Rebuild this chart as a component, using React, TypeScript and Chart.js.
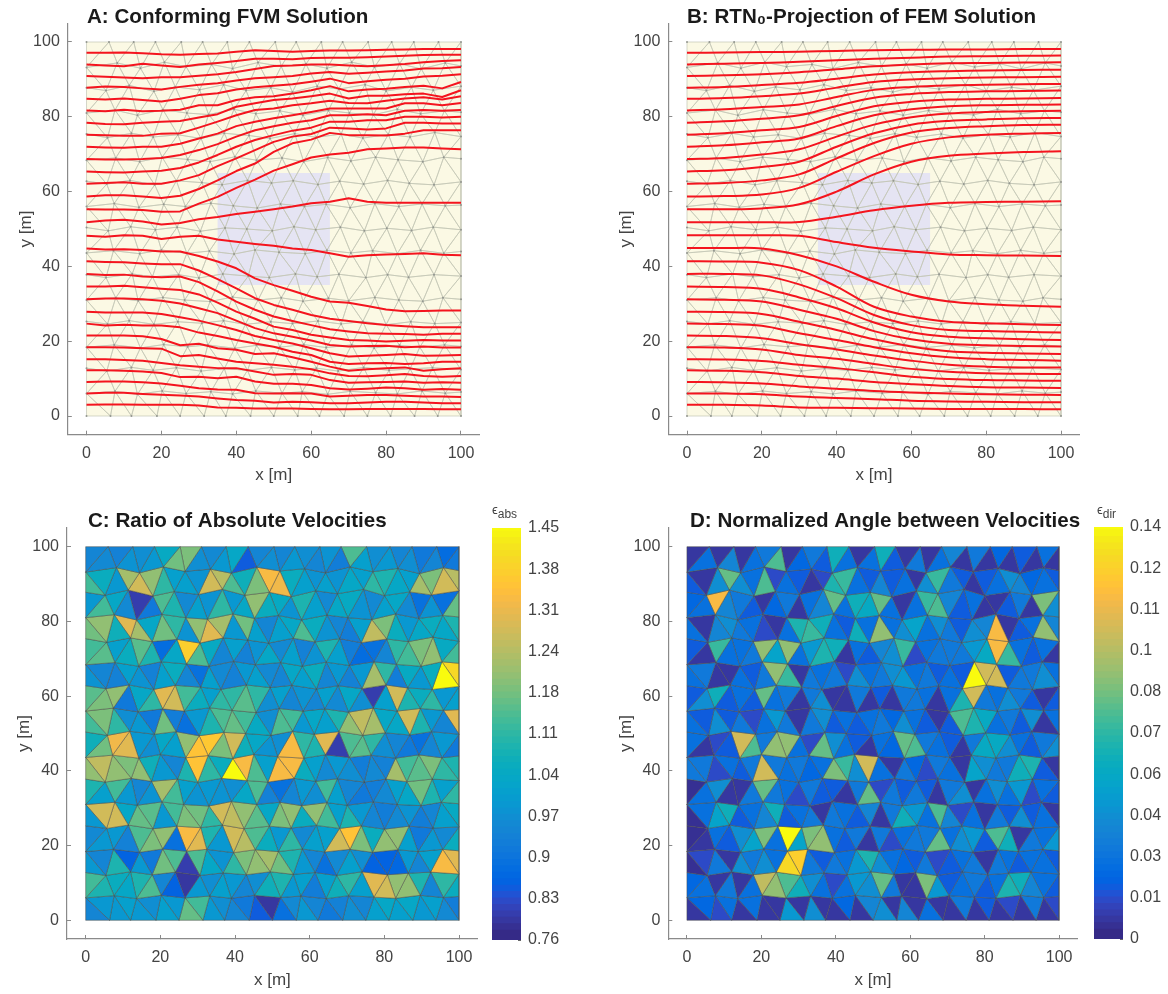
import React, { useEffect, useRef } from "react";
import { Chart, registerables } from "chart.js";

Chart.register(...registerables);

const FONT = "'Liberation Sans', Arial, sans-serif";
const TEXT = "#444444";
const AXIS = "#8a8a8a";

const axisTicks = [0, 20, 40, 60, 80, 100];
const titles = [
  "A: Conforming FVM Solution",
  "B: RTN₀-Projection of FEM Solution",
  "C: Ratio of Absolute Velocities",
  "D: Normalized Angle between Velocities",
];
const absTickLabels = ["0.76", "0.83", "0.9", "0.97", "1.04", "1.11", "1.18", "1.24", "1.31", "1.38", "1.45"];
const dirTickLabels = ["0", "0.01", "0.03", "0.04", "0.06", "0.07", "0.08", "0.1", "0.11", "0.12", "0.14"];
const absRange = [0.76, 1.45];
const dirRange = [0, 0.14];
const domainBox = [0, 100];
const lensBox = [35, 65];

const meshX = [
  [0,6,12.6,18.4,25.3,31,37.6,43.5,50.4,56,62.7,68.4,75.2,81.5,87.4,94,100],
  [0,8.2,14.4,20.8,26.6,33.4,39,45.8,52,58.6,64.2,70.8,76.9,83.6,89.4,95.8,100],
  [0,5.2,11.4,18,23.7,30.2,36.6,42.6,49.2,55,61.6,67.4,74.4,80,86.8,92.6,100],
  [0,7.6,13.6,20.4,26.8,32.6,39.4,45.2,51.6,57.8,64.6,70.2,76.6,83,89.2,95.6,100],
  [0,5.6,12,17.8,24.4,30.6,36.8,43.4,49,55.6,61.4,68,73.8,80.6,86.4,93,100],
  [0,7.8,14.2,20.2,27,33,39.6,45.4,52.2,58,64.4,70.6,77.2,83.2,89.8,95.4,100],
  [0,5.4,11.6,18.2,24,30.8,36.2,43,49.4,55.2,61.8,67.6,74,80.4,86.2,92.8,100],
  [0,7.4,14,20.6,26.4,33.2,39.2,45.6,51.8,58.2,64,70.4,77,83.4,89.6,95.8,100],
  [0,5.8,11.8,18.4,24.2,30.4,37,42.8,49.6,55.4,61.2,67.8,74.2,80.2,86.8,92.6,100],
  [0,7.2,14.2,20,26.8,32.8,39.4,45,51.4,58.4,64.2,70.6,76.4,83,89.2,95.4,100],
  [0,5.2,12.2,17.6,24.6,30,36.4,43.2,48.8,55.8,61.6,67.4,74.6,80.4,86,92.8,100],
  [0,7.8,13.8,20.4,26.2,33,39,45.8,52,57.8,64.6,70,77,83.4,89.8,95.2,100],
  [0,5.6,11.4,18,24.4,30.8,36.6,42.4,49.2,55,61.8,68,73.8,80,86.6,93,100],
  [0,7.4,14.4,20.6,27,32.4,39.6,45.4,51.6,58,64,70.8,76.8,83.6,89,95.6,100],
  [0,5.4,12,17.8,24,30.6,36.8,43,49.4,55.6,61.4,67.2,74,80.8,86.4,92.4,100],
  [0,7.6,13.6,20.2,26.6,33.2,39,45.2,52.2,57.6,64.4,70.4,77.2,83,89.6,95.8,100],
  [0,6.4,12,18.8,25,31.4,37.2,43.8,50,56.4,62.2,68.8,75,81.2,87.6,93.8,100],
];
const meshY = [
  [100,100,100,100,100,100,100,100,100,100,100,100,100,100,100,100,100],
  [93.2,94.4,93,94.6,93.4,94,92.9,94.5,93.5,94.1,93,94.6,93.3,94.2,92.8,94.4,93.6],
  [87.8,87,88.4,86.8,88,87.2,88.6,87,87.8,86.6,88.2,87.4,88.6,86.9,87.9,87.1,88.2],
  [81,81.8,80.4,81.9,81,80.6,82,80.8,81.6,80.4,81.7,81,80.5,82,80.8,81.6,81.2],
  [75.4,74.4,75.6,74.6,75.2,74.2,75.6,75,74.2,75.5,74.5,75.4,74.3,75.3,74.6,75.8,74.7],
  [68.4,69,68,69.2,68.6,68,69.3,68.4,69,68,69.1,68.2,69.2,68.5,68,69.2,68.8],
  [62.8,62,63,61.8,62.9,62.4,61.8,63,62.3,62.9,61.9,62.8,62,63,62.2,61.8,62.6],
  [56,56.8,55.8,56.6,56,56.9,56.2,55.6,56.7,56,56.6,55.7,56.8,56,56.7,56.2,56.4],
  [50.4,49.5,50.6,49.8,50.5,49.4,50.3,50,49.5,50.6,49.8,50.5,49.5,50.2,49.6,50.5,49.8],
  [43.6,44.2,43.4,44.4,43.5,44.1,43.3,44.4,43.8,43.4,44.3,43.6,44.2,43.4,44.3,43.5,44],
  [37.8,37,38,37.2,37.8,36.9,38,37.4,37,38,37.2,37.9,37,37.8,37.1,37.8,37.4],
  [31,31.6,30.8,31.7,31,30.6,31.8,31,31.6,30.7,31.5,30.8,31.7,31,30.7,31.6,31.2],
  [25.3,24.6,25.5,24.5,25.2,24.8,25.5,24.5,25.2,24.7,25.4,24.6,25.3,24.4,25.2,24.7,25],
  [18.4,19,18.2,19.1,18.5,19,18.1,18.9,18.4,19.1,18.3,19,18.2,18.9,18.4,19,18.6],
  [12.8,12,13,12.2,12.9,12,12.7,12.2,13,12.3,12.8,12,13,12.2,12.6,12.9,12.4],
  [6,6.6,5.8,6.7,6,6.5,5.9,6.7,6.1,6.5,5.8,6.6,6.2,5.9,6.7,6.1,6.4],
  [0,0,0,0,0,0,0,0,0,0,0,0,0,0,0,0,0],
];

const absRatio = [
  [.93,.95,.92,.97,.96,.98,1.03,1.16,1.18,.96,.95,.98,1.02,.84,.93,.96,.94,.98,.96,.93,.97,.91,1.13,1.0,.96,.98,.94,.96,.9,.94,.87,.9],
  [1.12,1.04,.98,1.22,1.28,1.2,1.1,1.0,1.0,.97,1.28,1.24,1.13,1.06,1.18,1.33,1.32,1.05,1.0,.97,1.0,.97,1.02,1.0,1.1,1.08,1.02,1.0,1.22,1.18,1.28,1.24],
  [.98,1.12,1.02,.95,.79,.9,1.13,1.08,.95,1.0,.97,1.1,.98,1.02,1.2,1.04,1.03,.97,1.08,1.0,.95,1.02,1.03,.97,.95,1.0,1.02,.95,.88,.97,.88,1.15],
  [1.16,1.2,1.06,1.3,1.22,1.02,1.16,1.1,.97,1.2,1.3,1.22,.98,1.17,1.0,.94,1.0,1.02,1.13,1.04,.97,.93,.91,1.0,1.25,1.18,1.04,.98,1.02,1.05,1.02,1.08],
  [1.12,1.14,1.0,1.04,1.14,1.08,.87,1.02,1.37,1.13,1.03,.93,1.0,.92,.97,1.02,.95,1.0,.92,.97,1.08,1.0,.91,.87,.88,.93,1.1,1.12,1.18,1.2,1.03,1.12],
  [.97,.94,.92,1.0,.97,.92,1.0,1.05,.94,.88,1.0,.95,.92,.98,1.0,.95,.94,1.02,1.0,1.05,.93,.98,.92,.98,1.22,1.1,.91,1.03,.98,1.04,1.45,1.4],
  [1.14,1.18,1.2,.9,1.02,1.1,1.3,1.28,1.12,1.04,1.0,1.1,1.1,1.14,1.1,.96,1.0,.94,.97,.93,1.0,.95,1.02,.96,.79,1.0,1.27,1.08,1.05,1.1,.98,1.0],
  [1.12,1.18,1.1,.96,.98,.9,1.16,.91,.88,.98,1.08,1.13,1.15,1.12,1.03,.96,1.13,1.12,.98,1.02,1.0,1.08,1.2,1.25,1.22,1.02,1.02,1.28,1.08,.98,.93,1.3],
  [1.06,1.16,1.32,1.3,.98,.96,1.02,1.0,1.2,1.35,1.36,1.18,1.27,1.06,1.02,.97,.96,1.33,1.1,1.08,1.3,.79,1.13,1.14,1.1,.96,.94,.9,.88,.93,.98,.9],
  [1.2,1.25,1.2,1.18,1.2,1.06,.98,.93,1.08,1.35,1.1,1.05,1.45,1.33,1.13,1.0,1.33,1.33,1.05,1.0,.95,.98,.96,.91,.95,.92,1.22,1.12,1.14,1.18,1.1,1.08],
  [1.08,1.0,1.12,.98,.94,.97,1.22,1.12,1.0,.97,.98,.97,.96,1.02,1.13,.92,.88,.93,.98,.96,1.12,1.0,.93,.9,.91,.95,1.0,1.02,1.16,1.08,1.0,1.1],
  [.98,1.28,1.28,1.02,1.15,1.14,.98,1.12,1.18,1.17,1.1,1.27,1.25,1.2,1.14,1.02,1.18,1.2,1.05,1.2,1.12,1.0,1.08,.98,.93,.91,.95,.97,.91,.93,1.0,1.03],
  [.95,.98,.98,.92,1.13,1.18,1.2,.88,1.33,1.3,1.08,.98,1.27,1.24,1.13,1.04,.98,1.1,.95,1.0,1.0,1.28,1.35,1.18,1.04,1.2,1.2,1.0,.9,.98,.95,1.04],
  [.98,.94,1.08,.85,.98,.9,1.17,1.13,.79,1.13,1.02,.97,1.1,1.18,1.2,1.22,1.16,1.08,.98,.93,.88,.95,1.0,.96,.85,.85,.86,.98,.94,1.0,1.33,1.3],
  [1.12,1.08,1.05,1.02,1.08,1.13,.94,.85,.78,.98,.96,1.0,.98,.94,.96,1.06,1.08,.98,1.0,.91,1.0,1.06,1.1,1.0,1.3,1.28,1.2,1.2,1.08,.93,1.1,1.05],
  [.94,.98,.98,1.0,.98,.96,1.0,.98,1.15,1.12,.98,.96,.93,.9,.84,.78,.88,.95,.98,.94,.9,.92,.96,.93,1.0,1.02,1.0,1.02,.98,1.0,.95,.91],
];

const angleNorm = [
  [.005,.025,.005,.035,.005,.025,.03,.075,.005,.02,.03,.015,.06,.025,.005,.025,.06,.015,.005,.03,.005,.025,.035,.005,.03,.005,.02,.005,.015,.005,.025,.005],
  [.015,.005,.04,.08,.04,.025,.075,.01,.025,.015,.005,.01,.065,.07,.025,.015,.035,.015,.025,.005,.04,.07,.03,.015,.005,.015,.025,.04,.035,.02,.025,.015],
  [.02,.025,.115,.035,.03,.015,.005,.02,.03,.005,.025,.035,.08,.025,.06,.055,.08,.025,.005,.025,.07,.075,.035,.015,.025,.005,.005,.015,.03,.005,.085,.04],
  [.025,.005,.035,.04,.03,.025,.01,.005,.025,.065,.07,.06,.025,.015,.06,.025,.09,.025,.04,.05,.025,.04,.03,.015,.04,.035,.115,.005,.015,.025,.09,.035],
  [.015,.005,.07,.025,.025,.03,.09,.05,.09,.025,.045,.065,.06,.005,.025,.015,.035,.04,.07,.01,.025,.03,.03,.03,.045,.055,.115,.07,.025,.015,.025,.005],
  [.025,.03,.005,.005,.025,.015,.03,.09,.07,.005,.03,.025,.03,.01,.04,.025,.03,.04,.045,.025,.03,.015,.025,.015,.14,.105,.105,.015,.03,.03,.04,.025],
  [.015,.04,.06,.015,.025,.015,.08,.025,.03,.005,.03,.04,.005,.005,.03,.005,.015,.005,.03,.03,.025,.005,.025,.065,.105,.03,.025,.04,.03,.015,.005,.015],
  [.025,.015,.04,.015,.03,.01,.025,.045,.03,.005,.03,.04,.015,.025,.015,.025,.03,.02,.04,.025,.015,.005,.015,.075,.065,.055,.025,.03,.015,.04,.005,.025],
  [.025,.005,.01,.015,.105,.075,.03,.09,.09,.025,.01,.08,.04,.025,.015,.005,.025,.02,.08,.075,.03,.025,.015,.005,.03,.055,.055,.04,.025,.015,.03,.04],
  [.03,.03,.01,.025,.015,.03,.105,.03,.025,.03,.02,.025,.085,.07,.04,.105,.025,.005,.03,.02,.01,.03,.025,.005,.05,.04,.03,.03,.06,.065,.015,.005],
  [.002,.025,.04,.005,.005,.03,.08,.03,.025,.01,.03,.015,.015,.005,.03,.08,.01,.03,.015,.03,.015,.005,.03,.04,.005,.025,.04,.025,.045,.01,.025,.015],
  [.002,.025,.05,.06,.015,.025,.035,.06,.015,.025,.03,.005,.03,.025,.015,.035,.005,.03,.06,.045,.025,.075,.035,.01,.025,.005,.03,.015,.04,.015,.025,.005],
  [.002,.005,.025,.015,.04,.05,.085,.025,.14,.05,.085,.09,.025,.015,.03,.005,.03,.01,.025,.03,.03,.08,.025,.04,.045,.015,.075,.06,.005,.03,.025,.045],
  [.002,.01,.03,.005,.04,.03,.04,.025,.13,.125,.03,.015,.03,.025,.045,.065,.04,.025,.02,.015,.03,.01,.015,.025,.03,.005,.03,.025,.015,.025,.025,.015],
  [.02,.025,.005,.03,.005,.025,.1,.09,.075,.06,.04,.025,.01,.025,.045,.04,.08,.03,.005,.005,.085,.045,.015,.025,.03,.015,.025,.065,.06,.035,.025,.015],
  [.005,.02,.01,.025,.005,.025,.005,.005,.045,.005,.04,.005,.005,.02,.005,.035,.04,.005,.035,.005,.025,.005,.005,.03,.005,.015,.005,.01,.005,.03,.005,.01],
];

const stationsA = [0,5,10,15,20,25,30,35,40,45,50,55,60,65,70,75,80,85,90,95,100];
const streamA = [
  [97.1,97.1,97.2,97,96.7,96.6,96.8,96.9,97.4,97.8,97.6,97.4,97.6,97.7,97.7,97.8,97.9,98,98.1,98.1,98.1],
  [94,93.7,93.5,94.2,93.7,93.3,94,94.4,94.9,95.5,95.5,95.4,95.7,95.8,95.8,95.9,96.1,96.3,96.5,96.6,96.6],
  [90.9,90.7,90.5,90.3,90.6,90.6,91,91.4,92,92.8,93.6,93.7,94,94,93.7,93.5,93.8,94.1,94.6,94.9,95.1],
  [87.8,88.1,88,87.6,87.3,88,88.6,89,89.7,90.3,90.6,90.9,91.6,92,91.5,91.8,92.1,92.4,92.9,93,93.3],
  [84.8,84.6,84.9,84.5,84.1,84.8,85.8,86.3,87.3,87.9,88.3,88.7,89.4,90.2,89,89.5,89.9,90.2,90.8,91,91.4],
  [81.7,81.5,81.9,81.5,81.6,81.9,83.1,83.1,84.5,85.2,85.5,86.2,87.1,88.2,86.8,87.3,87.5,88,88.3,87.6,89.3],
  [78.4,78.1,78,78.4,78.7,78.9,79.8,80.7,82.7,83.6,84.5,84.9,85.5,86.2,84.9,85.6,85.6,86,86.2,85.3,87.1],
  [75.2,75.1,74.9,74.9,75.5,75.6,77.1,78.7,80.4,81.8,82.2,83.1,83.6,84.3,83.7,83.6,84.3,84.9,85.2,84.6,85.5],
  [72,71.8,71.7,72,72,72.8,74.2,75.5,77.5,78.7,79.6,80.4,81.3,82.2,82.2,82.2,82.2,83.6,83.6,83.1,83.7],
  [68.7,68.6,68.6,68.7,69,69.8,71.1,72.7,74.7,76.4,77.5,78.4,79.1,80.4,80.4,80.7,80.4,81.6,81.8,81.6,81.8],
  [65.4,65.2,65.1,65.4,65.6,66.3,67.8,69.8,72,73.8,75.1,76.3,77.1,78.7,78.7,79.1,79.1,80,80,79.8,80],
  [62.1,62.3,62.5,62.1,62.1,63,64.4,66.8,68.9,71.1,73.3,74.7,75.4,77.1,76.9,76.6,76.9,78.4,78.4,78.2,78.2],
  [58.7,59,59,58.7,58.3,58.9,60.7,63,65.5,67.5,70.6,72.9,73.9,75.7,75.1,75.1,75,75.5,76.4,76.4,76.4],
  [55.3,55.2,55.2,55.1,54.6,54.7,56.8,58.6,61,63.2,65.6,67.3,69.1,69.9,70.4,71.3,71.5,71.8,71.8,71.5,71.3],
  [51.8,52.3,52.5,52,51.2,51.6,52.6,53.2,54,54.6,55.3,56,56.9,57.3,58.2,57.3,57,57,57,57,57],
  [48.2,47.9,48.3,48.2,47.3,47.9,48.2,47.2,46.6,46,45.5,44.8,44.4,43.5,42.6,43,43.2,43.3,43.5,43.1,43],
  [44.8,44.5,44.6,44.4,44,44,42.8,41.3,39.5,36.8,35,33.5,31.9,30.6,30.3,29.4,28.5,28,28.1,28.2,28.2],
  [41.4,41.2,41.1,40.8,40.6,40.6,38.9,36.6,34.1,31.5,29.7,28.4,27,26,25.4,24.8,24.3,24,23.7,23.7,23.7],
  [38,37.7,37.8,37.3,37.1,37.3,35.8,33.3,30.6,28.4,26.6,25.4,24.3,23.2,22.6,22.1,22,21.9,21.7,22,22],
  [34.6,34.6,34.8,34.4,34,33.7,32.5,30.3,27.9,26,23.9,23,21.7,21,20.3,20.2,19.9,20.1,20.3,20.2,20.2],
  [31.2,31.4,31.4,31.2,30.8,30.1,28.8,27.5,25.5,23.5,22.1,21.2,20.2,19,18.6,18.7,18.8,18.4,18.6,18.3,18.3],
  [27.9,27.7,27.7,27.7,27.3,26.4,25.5,24.3,23,21.4,20.3,19.4,18.1,16.8,15.9,16.1,16.3,16.6,16.1,16.2,16.3],
  [24.7,24.2,24.4,24.2,24.2,23.7,22.3,21.4,20.3,19.4,18.5,17.2,16.3,14.5,13.9,14.1,14.2,13.9,14.1,14.5,14.5],
  [21.5,21.5,21.5,21.3,20.6,18.9,19.3,18.1,17.7,16.6,16.8,15.7,14.5,13.2,12.1,12.5,12.8,13,12.1,12.5,12.8],
  [18.4,18.4,18.3,18.1,18,16,16.3,15.4,14.5,14.1,13.7,13.2,12.5,11.4,10.7,10.6,10.9,11.2,10.7,10.5,10.7],
  [15.2,15.2,15,14.8,14.2,13.6,13.2,12.8,12.8,11.9,11,11.2,11,9.6,8.9,9,9.1,9.2,8.9,9,8.9],
  [12.2,12.2,12.1,11.9,11.5,10.4,10.5,10.1,10.5,9.2,8.6,8.6,8.3,7.4,7.1,7.3,7.6,7.4,7,7.2,7],
  [9.1,9.2,9.2,9,8.7,8.1,7.4,7.1,7,6.1,6,6.1,6,5.2,5.4,5.6,5.6,5.4,5.2,5.2,5.1],
  [6,6.2,6.2,5.9,5.7,5.5,5.2,4.7,4.3,4.1,3.6,3.8,3.7,3.4,3.4,3.6,3.8,3.8,3.6,3.4,3.4],
  [3,3.1,3.1,3,3,3,2.8,2.3,2.2,2,2,2,1.9,1.8,1.8,1.9,1.9,1.9,1.9,1.8,1.8],
];

const stationsB = [0,10,20,30,40,50,60,70,80,90,100];
const streamB = [
  [97.1,97.2,97.3,97.4,97.6,97.8,97.9,98,98,98.1,98.1],
  [94,94.2,94.4,94.7,95.1,95.5,95.8,96.1,96.2,96.3,96.4],
  [90.9,91.1,91.4,91.9,92.7,93.5,94,94.3,94.4,94.5,94.6],
  [87.8,88,88.5,89.1,90.2,91.3,91.9,92.2,92.4,92.5,92.6],
  [84.8,85,85.5,86.2,87.8,89.3,90,90.3,90.5,90.6,90.7],
  [81.7,82,82.6,83.3,85.3,87.2,88,88.4,88.6,88.7,88.8],
  [78.4,78.8,79.5,80.4,82.9,85.1,86.1,86.6,86.8,86.9,87],
  [75.2,75.6,76.4,77.3,80.2,82.8,84,84.6,84.8,84.9,85],
  [72,72.4,73.2,74.2,77.5,80.4,82,82.8,83.1,83.2,83.3],
  [68.7,69,69.9,71.3,74.7,77.9,79.9,80.9,81.3,81.5,81.6],
  [65.4,65.7,66.6,68,72,75.6,77.9,78.9,79.3,79.6,79.7],
  [62.1,62.3,63,64.6,68.9,73,75.8,77,77.5,77.8,77.9],
  [58.7,58.8,59.2,61,65.3,69.5,72.8,74.5,75.2,75.5,75.7],
  [55.3,55.3,55.5,56.6,60,64.6,68,69.6,70.2,70.6,70.8],
  [51.8,51.8,51.8,51.9,53.3,55,56.2,57,57.2,57.3,57.4],
  [48.3,48.3,48.3,48.2,46.5,45,44,43.2,43,42.9,42.8],
  [44.9,44.9,44.8,43,40,35.9,32.4,30.6,29.9,29.5,29.2],
  [41.4,41.3,41,39,34.6,29.2,26.6,25.2,24.8,24.5,24.3],
  [38,38,37.6,35.2,31.5,27,24.3,23,22.7,22.5,22.3],
  [34.6,34.5,34,31.7,28.8,25,22.4,21.2,20.8,20.5,20.3],
  [31.2,31.1,30.6,28.4,26,22.7,20.5,19.3,18.9,18.7,18.6],
  [27.9,27.8,27.3,25.2,23,20.5,18.6,17.3,16.9,16.7,16.6],
  [24.7,24.6,24.1,22.1,20.3,18.4,16.8,15.7,15.2,15,14.8],
  [21.5,21.4,20.8,19.2,17.8,16.2,14.8,13.7,13.2,13,13],
  [18.4,18.3,17.8,16.3,15.3,13.9,12.6,11.8,11.4,11.3,11.2],
  [15.2,15.1,14.7,13.7,12.8,11.7,10.5,9.9,9.6,9.5,9.4],
  [12.2,12.1,11.7,10.7,10,9.1,8.5,8,7.7,7.6,7.5],
  [9.1,9,8.7,7.9,7.3,6.7,6.3,6,5.8,5.7,5.6],
  [6,6,5.8,5.2,4.8,4.5,4.1,3.9,3.8,3.7,3.7],
  [3,3,2.8,2.3,2.2,2.1,2,1.9,1.9,1.85,1.8],
];

const parula = [
  [.2081,.1663,.5292],[.2116,.1898,.5777],[.2123,.2138,.627],[.2081,.2386,.6771],[.1959,.2645,.7279],[.1707,.2919,.7792],[.1253,.3242,.8303],[.0591,.3598,.8683],
  [.0117,.3875,.882],[.006,.4086,.8828],[.0165,.4266,.8786],[.0329,.443,.872],[.0498,.4586,.8641],[.0629,.4737,.8554],[.0723,.4887,.8467],[.0779,.504,.8384],
  [.0793,.52,.8312],[.0749,.5375,.8263],[.0641,.557,.824],[.0488,.5772,.8228],[.0343,.5966,.8199],[.0265,.6137,.8135],[.0239,.6287,.8038],[.0231,.6418,.7913],
  [.0228,.6535,.7768],[.0267,.6642,.7607],[.0384,.6743,.7436],[.059,.6838,.7254],[.0843,.6928,.7062],[.1133,.7015,.6859],[.1453,.7098,.6646],[.1801,.7177,.6424],
  [.2178,.725,.6193],[.2586,.7317,.5954],[.3022,.7376,.5712],[.3482,.7424,.5473],[.3953,.7459,.5244],[.442,.7481,.5033],[.4871,.7491,.484],[.53,.7491,.4661],
  [.5709,.7485,.4494],[.6099,.7473,.4337],[.6473,.7456,.4188],[.6834,.7435,.4044],[.7184,.7411,.3905],[.7525,.7384,.3768],[.7858,.7356,.3633],[.8185,.7327,.3498],
  [.8507,.7299,.336],[.8824,.7274,.3217],[.9139,.7258,.3063],[.945,.7261,.2886],[.9739,.7314,.2666],[.9938,.7455,.2403],[.999,.7653,.2164],[.9955,.7861,.1967],
  [.988,.8066,.1794],[.9789,.8271,.1633],[.9697,.8481,.1475],[.9626,.8705,.1309],[.9589,.8949,.1132],[.9598,.9218,.0948],[.9661,.9514,.0755],[.9763,.9831,.0538],
];

const rgb = (c: number[]) => `rgb(${Math.round(c[0] * 255)},${Math.round(c[1] * 255)},${Math.round(c[2] * 255)})`;
const colorOf = (v: number, range: number[]) =>
  rgb(parula[Math.max(0, Math.min(63, Math.round(((v - range[0]) / (range[1] - range[0])) * 63)))]);
const vertex = (r: number, c: number) => ({ x: meshX[r][c], y: meshY[r][c] });

// Two triangles per mesh quad; the diagonal alternates from row to row.
function cellTriangles(r: number, c: number) {
  const a = vertex(r, c), b = vertex(r, c + 1), d = vertex(r + 1, c), e = vertex(r + 1, c + 1);
  return r % 2 === 0 ? [[a, b, d], [b, e, d]] : [[a, e, d], [a, b, e]];
}
function allTriangles() {
  const out: { x: number; y: number }[][] = [];
  for (let r = 0; r < meshX.length - 1; r++)
    for (let c = 0; c < meshX[0].length - 1; c++) out.push(...cellTriangles(r, c));
  return out;
}
const rect = (span: number[], fill: string) => ({
  data: [
    { x: span[0], y: span[0] }, { x: span[1], y: span[0] }, { x: span[1], y: span[1] }, { x: span[0], y: span[1] }, { x: span[0], y: span[0] },
  ],
  showLine: true, fill: "shape", backgroundColor: fill, borderWidth: 0, pointRadius: 0, tension: 0,
});

// Chart.js paints dataset 0 last, so the front-most layer comes first in the list.
function streamPanelDatasets(lines: number[][], stations: number[], tension: number) {
  const meshPoints: any[] = [];
  allTriangles().forEach((t) => meshPoints.push(t[0], t[1], t[2], t[0], { x: null, y: null }));
  const vertices = meshX.flatMap((row, r) => row.map((_, c) => vertex(r, c)));
  return [
    ...lines.map((ys) => ({
      data: ys.map((y, i) => ({ x: stations[i], y })),
      showLine: true, borderColor: "#f4141e", borderWidth: 2, pointRadius: 0, tension, fill: false,
      borderJoinStyle: "round",
    })),
    { data: vertices, showLine: false, pointRadius: 1, backgroundColor: "#93968f", borderWidth: 0 },
    { data: meshPoints, showLine: true, spanGaps: false, borderColor: "#c3c5b4", borderWidth: 0.7, pointRadius: 0, tension: 0, fill: false },
    rect(lensBox, "#e5e4f3"),
    rect(domainBox, "#fbf9e4"),
  ];
}
function cellPanelDatasets(values: number[][], range: number[]) {
  const tris = allTriangles();
  const flat = values.flat();
  return tris.map((t, i) => ({
    data: [t[0], t[1], t[2], t[0]],
    showLine: true, fill: "shape", backgroundColor: colorOf(flat[i], range),
    borderColor: "rgba(75,75,70,0.7)", borderWidth: 0.7, pointRadius: 0, tension: 0,
  }));
}

function panelConfig(p: any) {
  return {
    type: "scatter",
    data: { datasets: p.datasets },
    options: {
      responsive: false,
      animation: false,
      events: [],
      layout: { autoPadding: false, padding: { top: p.padTop, right: p.padRight, left: 0, bottom: 0 } },
      plugins: {
        legend: { display: false },
        tooltip: { enabled: false },
        title: {
          display: true, text: p.title, align: "start", fullSize: false, color: "#1a1a1a",
          font: { family: FONT, size: 20.6, weight: "bold", lineHeight: 1 }, padding: 0,
        },
      },
      scales: {
        x: {
          type: "linear", min: -5, max: 105,
          afterBuildTicks: (s: any) => { s.ticks = axisTicks.map((value) => ({ value })); },
          afterFit: (s: any) => { s.height = p.xHeight; },
          grid: { drawOnChartArea: false, tickLength: -4, color: AXIS },
          border: { color: AXIS, width: 1.2 },
          ticks: { color: TEXT, padding: 13, maxRotation: 0, autoSkip: false, font: { family: FONT, size: 16 } },
          title: { display: true, text: "x [m]", color: TEXT, font: { family: FONT, size: 17 }, padding: { top: 0, bottom: p.xTitleBottom } },
        },
        y: {
          type: "linear", min: -5, max: 105,
          afterBuildTicks: (s: any) => { s.ticks = axisTicks.map((value) => ({ value })); },
          afterFit: (s: any) => { s.width = p.yWidth; },
          grid: { drawOnChartArea: false, tickLength: -4, color: AXIS },
          border: { color: AXIS, width: 1.2 },
          ticks: { color: TEXT, padding: 12, autoSkip: false, font: { family: FONT, size: 16 } },
          title: { display: true, text: "y [m]", color: TEXT, font: { family: FONT, size: 17 }, padding: { top: p.yTitleTop, bottom: 0 } },
        },
      },
    },
    plugins: [
      {
        id: "placeTitle",
        afterLayout(chart: any) {
          const b = chart.titleBlock;
          const h = b.bottom - b.top;
          b.left = p.titleLeft;
          b.right = p.titleLeft + 470;
          b.top = p.titleCenter - h / 2;
          b.bottom = b.top + h;
        },
      },
    ],
  };
}

function colorbarConfig(labels: string[], range: number[], p: any) {
  const step = (range[1] - range[0]) / parula.length;
  const tickValues = labels.map((_, i) => range[0] + (i * (range[1] - range[0])) / (labels.length - 1));
  return {
    type: "scatter",
    data: {
      datasets: parula.map((c, i) => {
        const lo = range[0] + i * step, hi = lo + step * 1.6;
        return {
          data: [{ x: 0, y: lo }, { x: 1, y: lo }, { x: 1, y: hi }, { x: 0, y: hi }, { x: 0, y: lo }],
          showLine: true, fill: "shape", backgroundColor: rgb(c), borderWidth: 0, pointRadius: 0, tension: 0,
        };
      }),
    },
    options: {
      responsive: false,
      animation: false,
      events: [],
      layout: { autoPadding: false, padding: { top: p.top, bottom: p.bottom, left: p.left, right: 0 } },
      plugins: { legend: { display: false }, tooltip: { enabled: false } },
      scales: {
        x: { type: "linear", min: 0, max: 1, display: false },
        y: {
          type: "linear", position: "right", min: range[0], max: range[1],
          afterBuildTicks: (s: any) => { s.ticks = tickValues.map((value) => ({ value })); },
          afterFit: (s: any) => { s.width = p.axisWidth; },
          grid: { drawOnChartArea: false, tickLength: -3, color: "#666" },
          border: { display: false },
          ticks: {
            color: TEXT, padding: 10, autoSkip: false, font: { family: FONT, size: 16 },
            callback: (_: any, i: number) => labels[i],
          },
        },
      },
    },
  };
}

function ChartCanvas({ left, top, width, height, make }: any) {
  const ref = useRef<HTMLCanvasElement>(null);
  useEffect(() => {
    const chart = new Chart(ref.current as any, make());
    return () => chart.destroy();
  }, []);
  return (
    <canvas ref={ref} width={width} height={height}
      style={{ position: "absolute", left, top, width, height, display: "block" }} />
  );
}

function EpsLabel({ left, top, sub }: any) {
  return (
    <div style={{ position: "absolute", left, top, font: `13px ${FONT}`, color: TEXT, lineHeight: "14px" }}>
      ϵ<sub style={{ fontSize: 12, verticalAlign: "-4px", lineHeight: 0 }}>{sub}</sub>
    </div>
  );
}

export default function App() {
  const top = { padTop: 2.7, padRight: 10.3, xHeight: 55.3, xTitleBottom: 4, titleCenter: 17 };
  const low = { padTop: 7.4, padRight: 12.3, xHeight: 55, xTitleBottom: 3, titleCenter: 21 };
  return (
    <div style={{ position: "absolute", left: 0, top: 0, width: 1168, height: 994, background: "#fff", overflow: "hidden" }}>
      <ChartCanvas left={0} top={0} width={490} height={490} make={() => panelConfig({
        ...top, title: titles[0], titleLeft: 87, yWidth: 67.8, yTitleTop: 16,
        datasets: streamPanelDatasets(streamA, stationsA, 0),
      })} />
      <ChartCanvas left={600} top={0} width={490} height={490} make={() => panelConfig({
        ...top, title: titles[1], titleLeft: 87, yWidth: 68.3, yTitleTop: 16,
        datasets: streamPanelDatasets(streamB, stationsB, 0.35),
      })} />
      <ChartCanvas left={0} top={500} width={490} height={494} make={() => panelConfig({
        ...low, title: titles[2], titleLeft: 88, yWidth: 67, yTitleTop: 14,
        datasets: cellPanelDatasets(absRatio, absRange),
      })} />
      <ChartCanvas left={600} top={500} width={490} height={494} make={() => panelConfig({
        ...low, title: titles[3], titleLeft: 90, yWidth: 68.3, yTitleTop: 16,
        datasets: cellPanelDatasets(angleNorm, dirRange),
      })} />
      <ChartCanvas left={484} top={500} width={76} height={470} make={() => colorbarConfig(absTickLabels, absRange, {
        top: 28, bottom: 30, left: 8, axisWidth: 39,
      })} />
      <ChartCanvas left={1086} top={500} width={82} height={470} make={() => colorbarConfig(dirTickLabels, dirRange, {
        top: 27, bottom: 31, left: 8, axisWidth: 45,
      })} />
      <EpsLabel left={492} top={503} sub="abs" />
      <EpsLabel left={1097} top={503} sub="dir" />
    </div>
  );
}
